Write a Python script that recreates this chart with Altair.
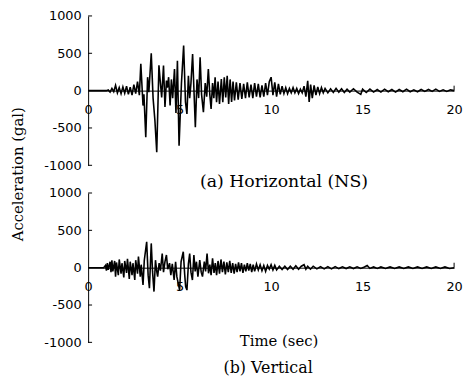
import altair as alt
import pandas as pd

# ---- (a) Horizontal (NS) acceleration record (sec, gal)
ns_t = [0.0, 1.0, 1.1, 1.2, 1.3, 1.4, 1.5, 1.6, 1.7, 1.8, 1.9, 2.0, 2.1, 2.2, 2.3, 2.4, 2.5, 2.6, 2.7, 2.8,
        2.88, 3.0, 3.05, 3.15, 3.25, 3.32, 3.45, 3.55, 3.65, 3.75, 3.87, 3.95, 4.02, 4.12, 4.2, 4.28, 4.33,
        4.4, 4.48, 4.55, 4.62, 4.72, 4.8, 4.88, 4.97, 5.1, 5.22, 5.32, 5.4, 5.48, 5.55, 5.62, 5.71, 5.86,
        5.95, 6.04, 6.12, 6.2, 6.3, 6.4, 6.48, 6.57, 6.65, 6.72, 6.8, 6.87, 6.94, 7.02, 7.1, 7.18, 7.28,
        7.36, 7.44, 7.52, 7.6, 7.68, 7.76, 7.84, 7.92, 8.0, 8.1, 8.2, 8.3, 8.4, 8.5, 8.6, 8.7, 8.8, 8.9,
        9.0, 9.1, 9.2, 9.3, 9.4, 9.5, 9.6, 9.7, 9.8, 9.9, 10.0, 10.1, 10.2, 10.3, 10.4, 10.5, 10.6, 10.7,
        10.8, 10.9, 11.0, 11.1, 11.2, 11.3, 11.4, 11.5, 11.6, 11.7, 11.8, 11.9, 12.0, 12.08, 12.16, 12.25,
        12.35, 12.45, 12.55, 12.65, 12.75, 12.85, 12.95, 13.1, 13.25, 13.4, 13.55, 13.7, 13.85, 14.0, 14.15,
        14.3, 14.5, 14.7, 14.9, 15.0, 15.2, 15.4, 15.6, 15.8, 16.0, 16.2, 16.4, 16.6, 16.8, 17.0, 17.2,
        17.4, 17.6, 17.8, 18.0, 18.2, 18.4, 18.6, 18.8, 19.0, 19.2, 19.4, 19.6, 19.8, 20.0]
ns_a = [0, 0, 10, -20, 30, -15, 70, -30, 40, -40, 50, -35, 60, -50, 45, -60, 80, -40, 120, -60,
        360, -200, -50, -625, 180, -20, 500, -100, -400, -826, 340, 100, -90, 335, -220, 134, 40,
        180, -200, 150, -100, 290, -300, 400, -737, 100, 603, -150, -312, 200, -100, 100, 491, -491,
        150, -100, 446, -50, -290, 100, -80, 290, -50, -245, 100, -100, 180, -156, 120, -180, 156,
        -156, 180, -90, 200, -180, 150, -150, 120, -130, 110, -120, 100, -110, 90, -100, 110, -90, 80,
        -100, 100, -80, 90, -90, 70, -80, 100, -60, 120, 180, -60, 110, -80, 90, -50, 60, -40,
        40, -40, 30, -30, 40, -30, 30, -40, 20, -30, 60, -80, 130, -150, 80, -100,
        70, -60, 50, -40, 40, -30, 30, -30, 25, -25, 30, -20, 25, -25, 20,
        -20, 25, -20, -50, 20, -25, 20, -20, 15, -20, 20, -15, 15, -20, 15, -15,
        20, -15, 10, -15, 15, -10, 15, -10, 20, -10, 10, -10, 10, 0]

# ---- (b) Vertical acceleration record (sec, gal)
ud_t = [0.0, 0.85, 0.95, 1.0, 1.05, 1.1, 1.2, 1.25, 1.3, 1.35, 1.45, 1.5, 1.55, 1.65, 1.7, 1.8, 1.85, 1.95,
        2.0, 2.1, 2.15, 2.25, 2.3, 2.4, 2.45, 2.55, 2.6, 2.7, 2.75, 2.85, 2.9, 3.0, 3.07, 3.2, 3.28, 3.35,
        3.45, 3.52, 3.6, 3.68, 3.75, 3.8, 3.88, 3.95, 4.05, 4.12, 4.2, 4.28, 4.35, 4.45, 4.52, 4.6, 4.7,
        4.78, 4.85, 5.0, 5.08, 5.2, 5.28, 5.33, 5.4, 5.48, 5.55, 5.62, 5.7, 5.78, 5.85, 5.92, 6.0, 6.1,
        6.18, 6.25, 6.35, 6.42, 6.5, 6.58, 6.65, 6.72, 6.8, 6.88, 6.95, 7.02, 7.1, 7.18, 7.26, 7.34, 7.42,
        7.5, 7.58, 7.66, 7.74, 7.82, 7.9, 7.98, 8.06, 8.14, 8.22, 8.3, 8.38, 8.46, 8.54, 8.62, 8.7, 8.78,
        8.86, 8.94, 9.02, 9.1, 9.2, 9.3, 9.4, 9.5, 9.6, 9.7, 9.8, 9.9, 10.0, 10.1, 10.2, 10.3, 10.45,
        10.6, 10.75, 10.9, 11.05, 11.2, 11.35, 11.5, 11.65, 11.8, 11.9, 12.0, 12.15, 12.3, 12.5, 12.7,
        12.9, 13.1, 13.3, 13.5, 13.7, 13.9, 14.1, 14.3, 14.5, 14.7, 14.9, 15.1, 15.25, 15.4, 15.6, 15.8,
        16.0, 16.25, 16.5, 16.75, 17.0, 17.25, 17.5, 17.75, 18.0, 18.25, 18.5, 18.75, 19.0, 19.25, 19.5,
        19.75, 20.0]
ud_a = [0, 0, 30, -40, 60, -30, 80, -60, 100, -50, 90, -120, 70, -100, 110, -80, 60, -130,
        90, -70, 120, -150, 80, -100, 60, -165, 100, -80, 150, -120, 40, -230, 100, 347, -100, -275,
        325, -50, -320, 100, -50, -120, 60, -40, 190, -60, 80, 170, -20, 60, -100, 50, -165,
        80, -120, -300, 80, 213, -100, -253, -300, 50, 190, -60, -165, 170, -50, 80, -120, 100,
        -60, -120, 80, -50, 190, -75, 40, -100, 125, -70, 60, -100, 90, -80, 110, -60, 80,
        -90, 70, -60, 90, -70, 60, -80, 50, -60, 70, -50, 60, -70, 40, -50, 60, -40,
        50, -60, 40, -50, 50, -30, 40, -40, 30, -50, 30, -20, 40, -30, 30, -30, 20,
        -25, 20, -25, 20, -20, 25, -20, 20, 40, -20, 20, -20, 20, -15, 15,
        -15, 15, -15, 15, -12, 12, -12, 12, -12, 12, -10, 10, 30, -10, 10, -10,
        10, -10, 10, -10, 10, -10, 10, -10, 10, -10, 10, -10, 10, -10, 10,
        -10, 0]

x_ticks = [0, 5, 10, 15, 20]
y_ticks = [-1000, -500, 0, 500, 1000]
y_inner_ticks = [-1000, -500, 500, 1000]

W, H = 370, 151
LABEL_FONT = "DejaVu Sans"
TITLE_FONT = "DejaVu Serif"

X_SCALE = alt.Scale(domain=[0, 20], nice=False)
Y_SCALE = alt.Scale(domain=[-1000, 1000], nice=False)
X_AXIS = alt.Axis(values=x_ticks, offset=-H / 2, title="", tickSize=0, labelPadding=13,
                  grid=False, domainColor="black", labelFont=LABEL_FONT, labelFontSize=13,
                  labelColor="black", labelFlush=False, labelOverlap=False)
Y_AXIS = alt.Axis(values=y_ticks, title="", tickSize=0, labelPadding=7, grid=False,
                  domainColor="black", labelFont=LABEL_FONT, labelFontSize=13,
                  labelColor="black", labelOverlap=False, labelFlush=False,
                  labelExpr="datum.value < 0 ? '-' + (-datum.value) : '' + datum.value")


def text_layer(s, x, y, size, angle=0):
    return alt.Chart(pd.DataFrame({"s": [s]})).mark_text(
        font=TITLE_FONT, fontSize=size, color="black", align="center",
        baseline="middle", angle=angle
    ).encode(text="s:N", x=alt.value(x), y=alt.value(y))


def panel(times, accel, texts):
    df = pd.DataFrame({"t": times, "a": accel})
    line = alt.Chart(df).mark_line(color="black", strokeWidth=1.6).encode(
        x=alt.X("t:Q", scale=X_SCALE, axis=X_AXIS),
        y=alt.Y("a:Q", scale=Y_SCALE, axis=Y_AXIS),
    )
    inner = alt.Chart(pd.DataFrame({"a": y_inner_ticks})).mark_rule(
        color="black", strokeWidth=1).encode(
        y=alt.Y("a:Q", scale=Y_SCALE, axis=Y_AXIS), x=alt.value(0), x2=alt.value(4))
    end = alt.Chart(pd.DataFrame({"t": [20]})).mark_rule(
        color="black", strokeWidth=1).encode(
        x=alt.X("t:Q", scale=X_SCALE, axis=X_AXIS), y=alt.value(H / 2 - 5), y2=alt.value(H / 2))
    layers = [line, inner, end] + [text_layer(*t) for t in texts]
    return alt.layer(*layers).properties(width=W, height=H)


top = panel(ns_t, ns_a, [
    ("(a) Horizontal (NS)", 198, 168, 17.5),
    ("Acceleration (gal)", -71, 160, 15, 270),
])
bottom = panel(ud_t, ud_a, [
    ("Time (sec)", 193, 150, 15),
    ("(b) Vertical", 182, 177, 16),
])

chart = alt.vconcat(top, bottom, spacing=28, bounds="flush").properties(
    padding={"left": 3, "top": 0, "right": 0, "bottom": 0},
).configure_view(strokeWidth=0).configure_axis(labelOverlap=False)

chart.save("out.html", embed_options={"renderer": "svg", "actions": False})
